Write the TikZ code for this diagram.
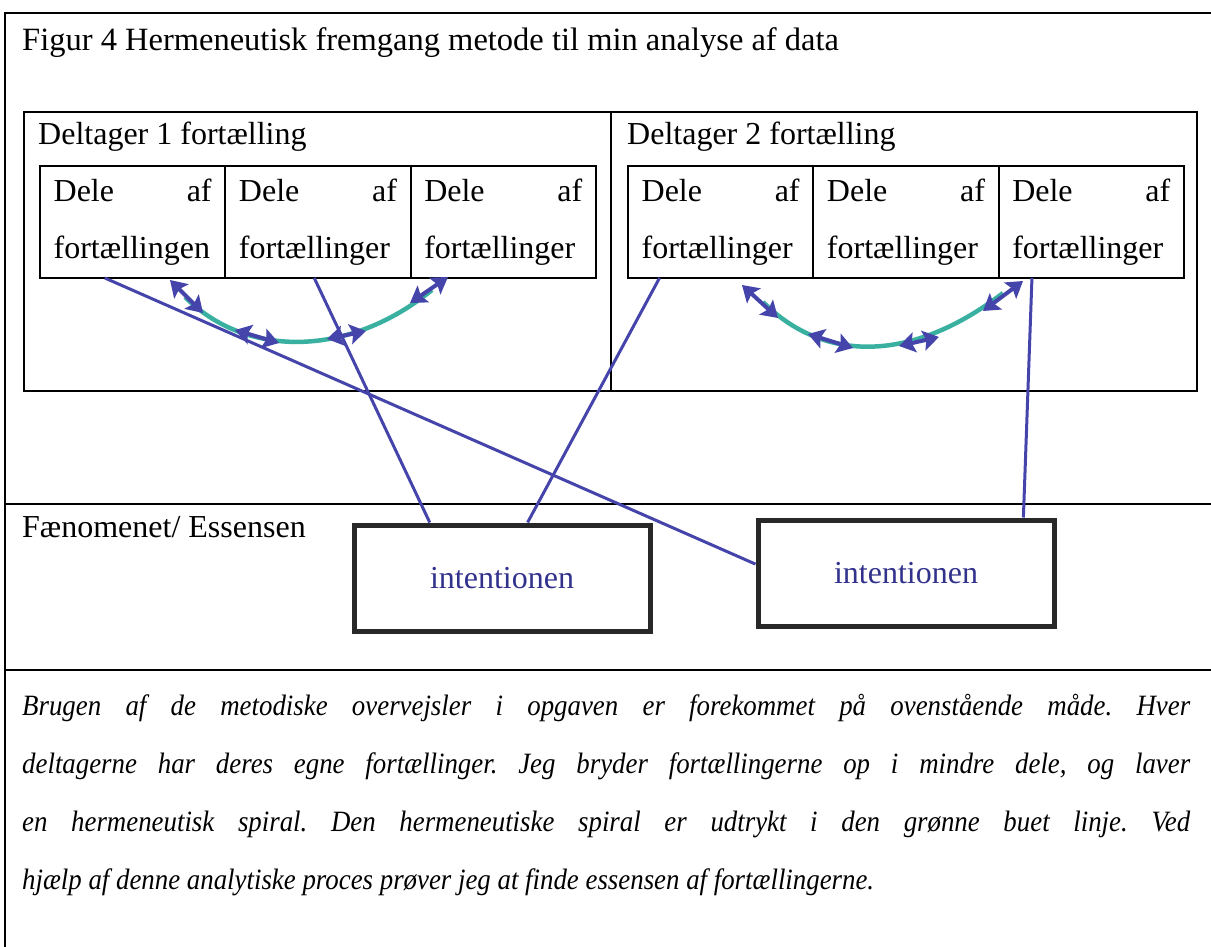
\documentclass[tikz,border=0pt]{standalone}
\usepackage{fontspec}
\setmainfont{Liberation Serif}
\newfontfamily\notefont[FakeStretch=0.91]{Liberation Serif}
\usetikzlibrary{positioning,arrows.meta,calc}
\definecolor{linkblue}{RGB}{68,68,170}
\definecolor{spiralgreen}{RGB}{58,176,160}
\definecolor{boxgray}{RGB}{40,40,40}
\definecolor{intblue}{RGB}{50,50,140}
\tikzset{
  every node/.style={font=\fontsize{32}{57}\selectfont},
  frame/.style={line width=2.5pt},
  story/.style={draw,line width=1.8pt,minimum height=279pt,inner sep=0pt,
    outer sep=0pt},
  part/.style={draw,line width=1.8pt,minimum width=185.3pt,minimum height=112pt,
    text width=158pt,align=left,inner sep=0pt,outer sep=0pt},
  intbox/.style={draw=boxgray,line width=5pt,minimum width=296pt,
    minimum height=106pt,text=intblue},
  link/.style={linkblue,line width=3pt},
  spiral/.style={spiralgreen,line width=4.5pt},
  turn/.style={{Stealth[length=16pt,width=20pt,inset=3pt]}-{Stealth[length=16pt,width=20pt,inset=3pt]},
    linkblue,line width=4pt},
  lbl/.style={anchor=base west,inner sep=0pt},
  para/.style={anchor=base west,inner sep=0pt,
    font=\notefont\fontsize{29.5}{57}\selectfont\itshape\frenchspacing},
}

\begin{document}
\begin{tikzpicture}[x=1pt,y=-1pt]
  \useasboundingbox (0,0) rectangle (1211,947);
  % table frame
  \draw[frame] (5,947) -- (5,13) -- (1211,13);
  \draw[frame] (5,504) -- (1211,504);
  \draw[frame] (5,670) -- (1211,670);
  \node[lbl,font=\fontsize{32.5}{57}\selectfont] (title) at (22,51) {Figur 4 Hermeneutisk fremgang metode til min analyse af data};
  % the two stories
  \node[story,minimum width=587pt,anchor=north west] (d1) at (24,112) {};
  \node[story,minimum width=586pt,right=0pt of d1] (d2) {};
  \node[lbl] (d1lbl) at ($(d1.north west)+(14,33)$) {Deltager 1 fortælling};
  \node[lbl] (d2lbl) at ($(d2.north west)+(16,33)$) {Deltager 2 fortælling};
  % parts of the stories
  \node[part,anchor=north west] (p1) at (40,166) {Dele\hfill af\\fortællingen};
  \node[part,right=0pt of p1] (p2) {Dele\hfill af\\fortællinger};
  \node[part,right=0pt of p2] (p3) {Dele\hfill af\\fortællinger};
  \node[part,anchor=north west] (p4) at (628,166) {Dele\hfill af\\fortællinger};
  \node[part,right=0pt of p4] (p5) {Dele\hfill af\\fortællinger};
  \node[part,right=0pt of p5] (p6) {Dele\hfill af\\fortællinger};
  % essence
  \node[lbl] (ess) at (22,537) {Fænomenet/ Essensen};
  \node[intbox] (i1) at (502,578) {intentionen};
  \node[intbox] (i2) at (906,573) {intentionen};
  % hermeneutic spirals
  \draw[spiral] (185,297) .. controls (246,358) and (348,358) .. (432,290);
  \draw[turn] (170,280) -- (203,313);
  \draw[turn] (235,330) -- (279,343);
  \draw[turn] (327,339) -- (366,331);
  \draw[turn] (410,303) -- (448,277);
  \draw[spiral] (763,302) .. controls (824,363) and (912,363) .. (1003,293);
  \draw[turn] (742,285) -- (778,318);
  \draw[turn] (808,334) -- (853,348);
  \draw[turn] (899,346) -- (939,337);
  \draw[turn] (983,311) -- (1023,281);
  % links to the essence
  \draw[link] ($(p1.south west)!0.35!(p1.south east)$) -- ($(i2.north west)!0.42!(i2.south west)$);
  \draw[link] ($(p2.south west)!0.48!(p2.south east)$) -- ($(i1.north west)!0.26!(i1.north east)$);
  \draw[link] ($(p4.south west)!0.17!(p4.south east)$) -- ($(i1.north west)!0.585!(i1.north east)$);
  \draw[link] ($(p6.south west)!0.18!(p6.south east)$) -- ($(i2.north west)!0.89!(i2.north east)$);
  % explanation
  \node[para] (l1) at (22,715) {\makebox[1168pt][s]{Brugen af de metodiske overvejsler i opgaven er forekommet på ovenstående måde. Hver}};
  \node[para] (l2) at (22,773) {\makebox[1168pt][s]{deltagerne har deres egne fortællinger. Jeg bryder fortællingerne op i mindre dele, og laver}};
  \node[para] (l3) at (22,831) {\makebox[1168pt][s]{en hermeneutisk spiral. Den hermeneutiske spiral er udtrykt i den grønne buet linje. Ved}};
  \node[para] (l4) at (22,889) {hjælp af denne analytiske proces prøver jeg at finde essensen af fortællingerne.};
\end{tikzpicture}
\end{document}
